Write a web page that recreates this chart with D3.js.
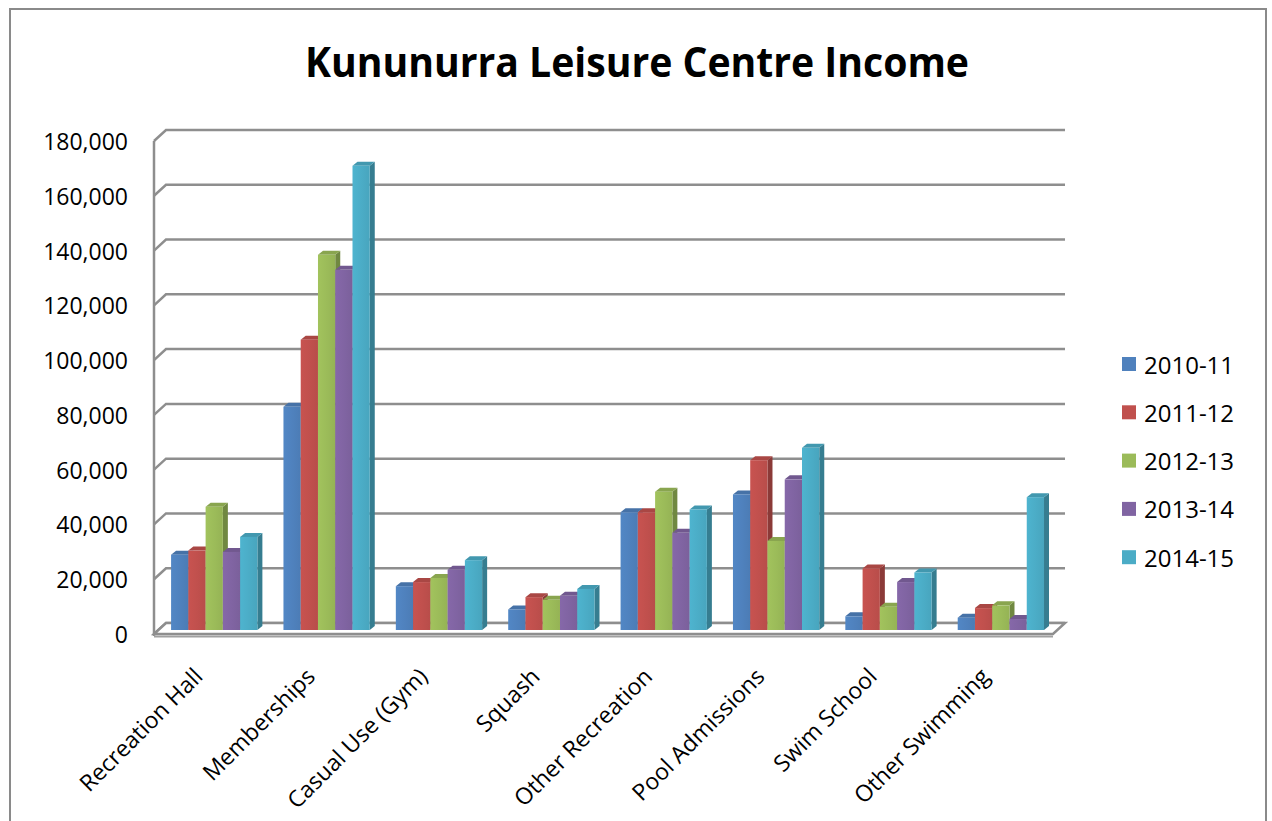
<!DOCTYPE html>
<html>
<head>
<meta charset="utf-8">
<script src="https://cdn.jsdelivr.net/npm/d3@7"></script>
<style>
  body { margin: 0; background: #fff; }
  text { font-family: "Open Sans", "DejaVu Sans", sans-serif; fill: #000; }
</style>
</head>
<body>
<div id="chart"></div>
<script>
// Data
const categories = ["Recreation Hall", "Memberships", "Casual Use (Gym)", "Squash",
  "Other Recreation", "Pool Admissions", "Swim School", "Other Swimming"];
const seriesNames = ["2010-11", "2011-12", "2012-13", "2013-14", "2014-15"];
const colors = ["#4f81bd", "#c0504d", "#9bbb59", "#8064a2", "#4bacc6"];
const v2010 = [27500, 81500, 16000, 7500, 43000, 49500, 5000, 4500];
const v2011 = [29000, 106000, 17500, 12000, 43000, 62000, 22500, 8000];
const v2012 = [45000, 137000, 19000, 11000, 50500, 32500, 8500, 9000];
const v2013 = [28500, 131500, 22000, 12500, 35500, 55000, 17500, 4000];
const v2014 = [34000, 169500, 25500, 15000, 44000, 66500, 21000, 48500];
const seriesValues = [v2010, v2011, v2012, v2013, v2014];
const yTicks = [0, 20000, 40000, 60000, 80000, 100000, 120000, 140000, 160000, 180000];

function draw() {
  const width = 1272, height = 821;

  // plot box (front face of the 3D frame) and depth offset
  const front = { left: 154, right: 1053, bottom: 634 };
  const depth = { dx: 12, dy: 11 };
  const barBase = 630;
  const cap = { dx: 5, dy: 4 };

  const svg = d3.select("#chart").append("svg")
    .attr("width", width).attr("height", height)
    .attr("viewBox", `0 0 ${width} ${height}`);

  // outer chart border
  svg.append("rect")
    .attr("x", 10).attr("y", 9)
    .attr("width", 1256).attr("height", 830)
    .attr("fill", "none").attr("stroke", "#8a8a8a").attr("stroke-width", 2);

  // Title
  svg.append("text")
    .attr("x", 637).attr("y", 77)
    .attr("text-anchor", "middle")
    .attr("font-size", 42).attr("font-weight", "bold")
    .attr("textLength", 664).attr("lengthAdjust", "spacingAndGlyphs")
    .text("Kununurra Leisure Centre Income");

  // Scales
  const yBack = d3.scaleLinear().domain([0, 180000])
    .range([front.bottom - depth.dy, 130]);
  const yBar = d3.scaleLinear().domain([0, 180000])
    .range([barBase, barBase - (yBack(0) - yBack(180000))]);

  const x0 = d3.scaleBand().domain(categories).range([front.left, front.right]);
  const bw = x0.bandwidth();
  const x1 = d3.scaleBand().domain(seriesNames).range([bw * 0.152, bw * 0.92]);

  // Gridlines on back wall with diagonal on side wall
  const grid = svg.append("g");
  grid.selectAll("path")
    .data(yTicks)
    .join("path")
    .attr("d", (d) => `M${front.left},${yBack(d) + depth.dy}L${front.left + depth.dx},${yBack(d)}L${front.right + depth.dx},${yBack(d)}`)
    .attr("fill", "none")
    .attr("stroke", "#8e8e8e")
    .attr("stroke-width", 2.5);

  // left front edge
  grid.append("line")
    .attr("x1", front.left).attr("x2", front.left)
    .attr("y1", yBack(180000) + depth.dy).attr("y2", front.bottom + 2)
    .attr("stroke", "#8e8e8e").attr("stroke-width", 2.5);

  // floor
  grid.append("path")
    .attr("d", `M${front.left},${front.bottom}L${front.right},${front.bottom}L${front.right + depth.dx},${front.bottom - depth.dy}L${front.left + depth.dx},${front.bottom - depth.dy}Z`)
    .attr("fill", "#fff").attr("stroke", "#8e8e8e").attr("stroke-width", 2.5);
  grid.append("line")
    .attr("x1", front.left).attr("x2", front.right)
    .attr("y1", front.bottom + 2.5).attr("y2", front.bottom + 2.5)
    .attr("stroke", "#a0a0a0").attr("stroke-width", 2);

  // Y labels
  svg.append("g").selectAll("text")
    .data(yTicks)
    .join("text")
    .attr("x", 128)
    .attr("y", (d) => yBack(d) + depth.dy)
    .attr("text-anchor", "end")
    .attr("dominant-baseline", "central")
    .attr("font-size", 23)
    .text((d) => d3.format(",")(d));

  // Gradients
  const defs = svg.append("defs");
  colors.forEach((c, i) => {
    const g = defs.append("linearGradient").attr("id", "grad" + i)
      .attr("x1", 0).attr("x2", 1).attr("y1", 0).attr("y2", 0);
    g.append("stop").attr("offset", "0%").attr("stop-color", d3.color(c).brighter(0.12));
    g.append("stop").attr("offset", "55%").attr("stop-color", c);
    g.append("stop").attr("offset", "100%").attr("stop-color", d3.color(c).darker(0.12));
  });

  // Bars
  const bars = [];
  categories.forEach((cat, ci) => {
    seriesNames.forEach((s, si) => {
      bars.push({ cat, s, si, v: seriesValues[si][ci] });
    });
  });

  const barG = svg.append("g").selectAll("g")
    .data(bars)
    .join("g")
    .attr("transform", (d) => `translate(${x0(d.cat) + x1(d.s)},0)`);

  const w = x1.bandwidth();
  // side face
  barG.append("path")
    .attr("d", (d) => {
      const t = yBar(d.v);
      return `M${w},${t}L${w + cap.dx},${t - cap.dy}L${w + cap.dx},${barBase - cap.dy}L${w},${barBase}Z`;
    })
    .attr("fill", (d) => d3.color(colors[d.si]).darker(0.9));
  // top face
  barG.append("path")
    .attr("d", (d) => {
      const t = yBar(d.v);
      return `M0,${t}L${cap.dx},${t - cap.dy}L${w + cap.dx},${t - cap.dy}L${w},${t}Z`;
    })
    .attr("fill", (d) => d3.color(colors[d.si]).darker(0.35));
  // front face
  barG.append("rect")
    .attr("x", 0)
    .attr("y", (d) => yBar(d.v))
    .attr("width", w)
    .attr("height", (d) => barBase - yBar(d.v))
    .attr("fill", (d) => `url(#grad${d.si})`);

  // Category labels
  svg.append("g").selectAll("text")
    .data(categories)
    .join("text")
    .attr("transform", (d) => `translate(${x0(d) + bw / 2 - 6},678) rotate(-45)`)
    .attr("text-anchor", "end")
    .attr("font-size", 23)
    .text((d) => d);

  // Legend
  const legend = svg.append("g").selectAll("g")
    .data(seriesNames)
    .join("g")
    .attr("transform", (d, i) => `translate(1122,${364 + i * 48.3})`);
  legend.append("rect")
    .attr("x", 0).attr("y", -7)
    .attr("width", 14).attr("height", 14)
    .attr("fill", (d, i) => colors[i]);
  legend.append("text")
    .attr("x", 22).attr("y", 0)
    .attr("dominant-baseline", "central")
    .attr("font-size", 24)
    .text((d) => d);
}

draw();
</script>
</body>
</html>
